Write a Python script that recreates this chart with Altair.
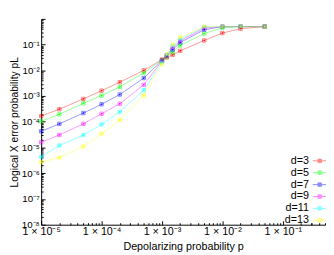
import altair as alt
import pandas as pd
import math

# ---- data (log10 of p_L) ----
p_values = [1e-5, 2e-5, 5e-5, 1e-4, 2e-4, 5e-4, 1e-3, 1.2e-3, 1.5e-3, 2e-3, 5e-3, 1e-2, 2e-2, 5e-2]
series_names = ["d=3", "d=5", "d=7", "d=9", "d=11", "d=13"]
log_pl_d3 = [-3.78, -3.51, -3.11, -2.79, -2.46, -2.00, -1.58, -1.50, -1.40, -1.24, -0.84, -0.55, -0.38, -0.30]
log_pl_d5 = [-3.98, -3.71, -3.28, -2.98, -2.64, -2.10, -1.60, -1.46, -1.30, -1.03, -0.57, -0.35, -0.30, -0.30]
log_pl_d7 = [-4.37, -4.08, -3.66, -3.32, -2.94, -2.30, -1.62, -1.44, -1.20, -0.92, -0.42, -0.30, -0.30, -0.30]
log_pl_d9 = [-4.80, -4.51, -4.08, -3.69, -3.30, -2.56, -1.64, -1.42, -1.12, -0.86, -0.36, -0.30, -0.30, -0.30]
log_pl_d11 = [-5.36, -4.92, -4.52, -4.10, -3.61, -2.77, -1.68, -1.40, -1.06, -0.80, -0.32, -0.30, -0.30, -0.30]
log_pl_d13 = [-5.57, -5.39, -4.96, -4.46, -3.93, -2.98, -1.75, -1.38, -1.01, -0.72, -0.30, -0.30, -0.30, -0.30]
series_colors = ["#ff0000", "#00ff00", "#0000ff", "#ff00ff", "#00ffff", "#ffff00"]

x_major = [1e-5, 1e-4, 1e-3, 1e-2, 1e-1]
x_major_labels = ["1 × 10⁻⁵", "1 × 10⁻⁴", "1 × 10⁻³", "1 × 10⁻²", "1 × 10⁻¹"]
y_major = [1e-8, 1e-7, 1e-6, 1e-5, 1e-4, 1e-3, 1e-2, 1e-1]
y_major_labels = ["10⁻⁸", "10⁻⁷", "10⁻⁶", "10⁻⁵", "10⁻⁴", "10⁻³", "10⁻²", "10⁻¹"]
x_minor = [m * 10.0 ** k for k in range(-5, 0) for m in range(2, 10)] + [0.2, 0.3, 0.4, 0.5]
y_minor = [m * 10.0 ** k for k in range(-8, 0) for m in range(2, 10)]

rows = []
for name, vals in zip(series_names, [log_pl_d3, log_pl_d5, log_pl_d7, log_pl_d9, log_pl_d11, log_pl_d13]):
    for p, v in zip(p_values, vals):
        rows.append({"p": p, "pL": 10.0 ** v, "d": name})
df = pd.DataFrame(rows)

X0 = 42
W, H = 333 - X0, 211
FONT = "Liberation Sans"

def label_expr(vals, labels):
    e = "round(log(datum.value)/LN10)"
    expr = "''"
    for v, lab in reversed(list(zip(vals, labels))):
        k = round(math.log10(v))
        expr = f"{e} == {k} ? '{lab}' : ({expr})"
    return expr

x_scale = alt.Scale(type="log", domain=[1e-5, 0.5], nice=False)
y_scale = alt.Scale(type="log", domain=[1e-8, 1], nice=False)
color_scale = alt.Scale(domain=series_names, range=series_colors)

legend_symbol = "M-1.17,0H1.17M-0.29,-0.29H0.29V0.29H-0.29Z"
legend = alt.Legend(
    orient="none", legendX=279, legendY=139, title=None, padding=0,
    symbolType=legend_symbol, symbolSize=144, symbolStrokeWidth=1,
    symbolOpacity=0.45, labelAlign="right", labelOffset={"expr": "-17.5"},
    labelFont=FONT, labelFontSize=11, labelColor="black",
    rowPadding=0.2)

base = alt.Chart(df)

lines = base.mark_line(strokeWidth=1, opacity=0.4, clip=True).encode(
    x=alt.X("p:Q", scale=x_scale, axis=alt.Axis(
        orient="bottom", values=x_major, labelExpr=label_expr(x_major, x_major_labels),
        ticks=False, domain=True, domainColor="black", grid=False,
        title="Depolarizing probability p", labelPadding=1, titlePadding=4,
        labelFlush=False, labelOverlap=False)),
    y=alt.Y("pL:Q", scale=y_scale, axis=alt.Axis(
        orient="left", values=y_major, labelExpr=label_expr(y_major, y_major_labels),
        ticks=False, domain=True, domainColor="black", grid=False,
        title="Logical X error probability pL", labelPadding=2, titlePadding=2,
        labelFontSize=10, titleFontSize=10.5,
        labelFlush=False, labelOverlap=False)),
    color=alt.Color("d:N", scale=color_scale, legend=legend),
    detail="d:N",
)

outer_pts = base.mark_point(shape="square", filled=False, size=12, strokeWidth=1, opacity=0.5).encode(
    x=alt.X("p:Q", scale=x_scale, axis=alt.Axis(
        orient="top", offset=-H, values=x_minor, labels=False, domain=False,
        ticks=True, tickSize=2, tickColor="black", grid=False, title=None)),
    y=alt.Y("pL:Q", scale=y_scale, axis=alt.Axis(
        orient="right", offset=-W, values=y_minor, labels=False, domain=False,
        ticks=True, tickSize=2, tickColor="black", grid=False, title=None)),
    color=alt.Color("d:N", scale=color_scale, legend=legend),
)

inner_pts = base.mark_point(shape="square", filled=True, size=3, opacity=0.85).encode(
    x=alt.X("p:Q", scale=x_scale, axis=alt.Axis(
        orient="top", offset=-H, values=x_major, labels=False, domain=False,
        ticks=True, tickSize=4, tickColor="black", grid=False, title=None)),
    y=alt.Y("pL:Q", scale=y_scale, axis=alt.Axis(
        orient="right", offset=-W, values=y_major + [1.0], labels=False, domain=False,
        ticks=True, tickSize=4, tickColor="black", grid=False, title=None)),
    color=alt.Color("d:N", scale=color_scale, legend=legend),
)

chart = alt.layer(lines, outer_pts, inner_pts).resolve_axis(
    x="independent", y="independent"
).properties(
    width=W, height=H,
    autosize=alt.AutoSizeParams(type="none"),
    padding={"left": X0 - 8, "top": 8, "right": 1, "bottom": 32},
).configure_axis(
    labelFont=FONT, labelFontSize=11, labelColor="black",
    titleFont=FONT, titleFontSize=11, titleFontWeight="normal", titleColor="black",
).configure_view(strokeWidth=0)

chart.save("out.html", embed_options={"renderer": "svg", "actions": False})
